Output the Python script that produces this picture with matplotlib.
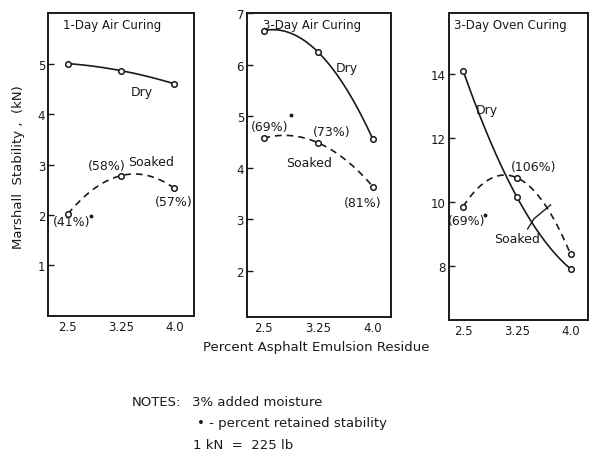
import numpy as np
import matplotlib
matplotlib.use('Agg')
import matplotlib.pyplot as plt

# ---- data ----
residue = [2.5, 3.25, 4.0]
xticklabels = ["2.5", "3.25", "4.0"]

air1_dry = [5.0, 4.86, 4.6]
air1_soaked = [2.02, 2.78, 2.53]
air1_pct = ["(41%)", "(58%)", "(57%)"]

air3_dry = [6.66, 6.24, 4.55]
air3_soaked = [4.57, 4.48, 3.63]
air3_pct = ["(69%)", "(73%)", "(81%)"]

oven3_dry = [14.1, 10.15, 7.9]
oven3_soaked = [9.85, 10.75, 8.35]
oven3_pct = ["(69%)", "(106%)"]

INK = "#1a1a1a"
FS = 9

plt.rcParams['font.family'] = 'DejaVu Sans'

fig = plt.figure(figsize=(5.89, 4.56), dpi=100)
fig.patch.set_facecolor("white")


def smooth(ax, x, y, ls):
    # quadratic through the three measured points, just for the drawn curve
    c = np.polyfit(x, y, 2)
    xs = np.linspace(min(x), max(x), 100)
    if ls == '--':
        ax.plot(xs, np.polyval(c, xs), color=INK, lw=1.2, ls='--', dashes=(4, 3))
    else:
        ax.plot(xs, np.polyval(c, xs), color=INK, lw=1.2)
    ax.plot(x, y, 'o', ms=4, mfc='white', mec=INK, mew=1.1, zorder=3)


def setup(ax, xlim, ylim, yticks, title, tx):
    ax.set_xlim(*xlim)
    ax.set_ylim(*ylim)
    ax.set_xticks(residue)
    ax.set_xticklabels(xticklabels, fontsize=8.5, color=INK)
    ax.set_yticks(yticks)
    ax.set_yticklabels([str(t) for t in yticks], fontsize=8.5, color=INK)
    ax.tick_params(axis='x', length=0, pad=3)
    ax.tick_params(axis='y', direction='in', length=4, width=1, pad=2, colors=INK)
    for s in ax.spines.values():
        s.set_linewidth(1.4)
        s.set_color(INK)
    ax.text(tx, 0.985, title, transform=ax.transAxes, ha='left', va='top',
            fontsize=8.5, color=INK)


def label(ax, x, y, s):
    ax.text(x, y, s, fontsize=FS, color=INK, ha='center', va='center')


# ---- panel 1 ----
ax1 = fig.add_axes([0.0815, 0.305, 0.248, 0.664])
setup(ax1, (2.22, 4.28), (0, 6.0), [1, 2, 3, 4, 5], "1-Day Air Curing", 0.1)
smooth(ax1, residue, air1_dry, '-')
smooth(ax1, residue, air1_soaked, '--')
label(ax1, 3.55, 4.45, "Dry")
label(ax1, 3.67, 3.06, "Soaked")
label(ax1, 3.05, 2.98, air1_pct[1])
label(ax1, 4.0, 2.26, air1_pct[2])
label(ax1, 2.55, 1.88, air1_pct[0])
ax1.plot(2.83, 1.98, 'o', ms=1.8, color=INK)

# ---- panel 2 ----
ax2 = fig.add_axes([0.419, 0.303, 0.245, 0.666])
setup(ax2, (2.27, 4.25), (1.1, 7.0), [2, 3, 4, 5, 6, 7], "3-Day Air Curing", 0.11)
smooth(ax2, residue, air3_dry, '-')
smooth(ax2, residue, air3_soaked, '--')
label(ax2, 3.64, 5.95, "Dry")
label(ax2, 2.59, 4.8, air3_pct[0])
ax2.plot(2.88, 5.03, 'o', ms=1.8, color=INK)
label(ax2, 3.44, 4.7, air3_pct[1])
label(ax2, 3.12, 4.1, "Soaked")
label(ax2, 3.86, 3.33, air3_pct[2])

# ---- panel 3 ----
ax3 = fig.add_axes([0.762, 0.296, 0.236, 0.673])
setup(ax3, (2.3, 4.24), (6.3, 15.9), [8, 10, 12, 14], "3-Day Oven Curing", 0.04)
smooth(ax3, residue, oven3_dry, '-')
smooth(ax3, residue, oven3_soaked, '--')
label(ax3, 2.83, 12.9, "Dry")
label(ax3, 3.49, 11.1, oven3_pct[1])
label(ax3, 2.55, 9.42, oven3_pct[0])
ax3.plot(2.81, 9.6, 'o', ms=1.8, color=INK)
label(ax3, 3.25, 8.85, "Soaked")
ax3.plot([3.4, 3.49, 3.72], [9.15, 9.47, 9.9], color=INK, lw=1.0)

# ---- shared texts ----
fig.text(0.031, 0.634, "Marshall  Stability ,  (kN)", fontsize=9.5, color=INK,
         rotation=90, ha='center', va='center')
fig.text(0.537, 0.237, "Percent Asphalt Emulsion Residue", fontsize=9.5,
         color=INK, ha='center', va='center')
fig.text(0.224, 0.118, "NOTES:", fontsize=9.5, color=INK, ha='left', va='center')
fig.text(0.326, 0.118, "3% added moisture", fontsize=9.5, color=INK, ha='left', va='center')
fig.text(0.334, 0.072, "\u2022 - percent retained stability", fontsize=9.5, color=INK,
         ha='left', va='center')
fig.text(0.328, 0.022, "1 kN  =  225 lb", fontsize=9.5, color=INK, ha='left', va='center')

fig.savefig("out.png", dpi=100, facecolor=fig.get_facecolor())
